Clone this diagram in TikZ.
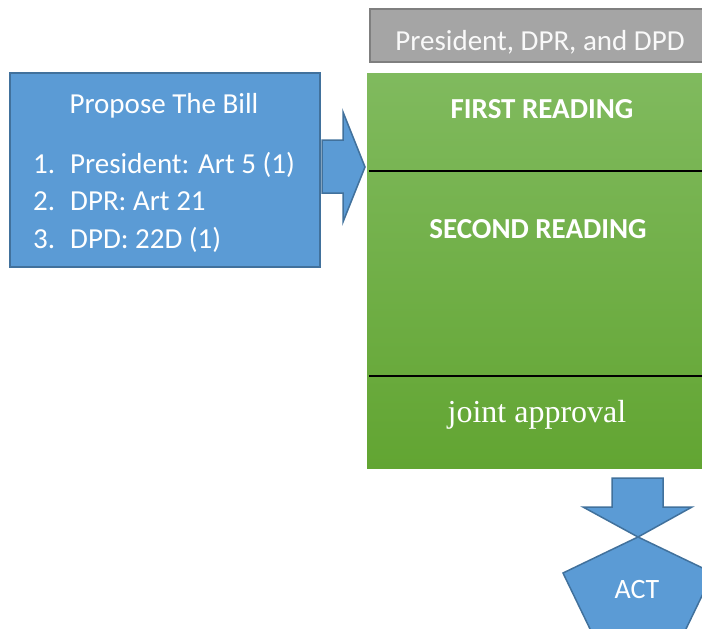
\documentclass[tikz,border=0pt]{standalone}
\usepackage{fontspec}
\setmainfont{Carlito}
\newfontfamily\jointfont{Liberation Serif}
\usetikzlibrary{positioning}
\definecolor{blueFill}{HTML}{5B9BD5}
\definecolor{blueLine}{HTML}{41719C}
\definecolor{greenTop}{HTML}{80BA5E}
\definecolor{greenBot}{HTML}{62A532}
\definecolor{grayFill}{HTML}{A5A5A5}
\definecolor{grayLine}{HTML}{7F7F7F}
\begin{document}
\begin{tikzpicture}[x=1pt,y=-1pt,line join=miter,
	blueshape/.style={fill=blueFill,draw=blueLine,line width=1.5pt},
	labeltext/.style={text=white,anchor=base,inner sep=0pt,font=\fontsize{29}{35}\selectfont},
	itemtext/.style={labeltext,anchor=base west}]
	\useasboundingbox (0,0) rectangle (702,629);
	\clip (0,0) rectangle (702,629);
	% proposing box
	\draw[blueshape] (10,73) rectangle (320,267);
	\node[labeltext] (propose) at (164,113) {Propose The Bill};
	\node[itemtext] (item1) at (33,173) {\makebox[37pt][l]{1.}President: Art 5 (1)};
	\node[itemtext] (item2) at (33,210) {\makebox[37pt][l]{2.}DPR: Art 21};
	\node[itemtext] (item3) at (33,248) {\makebox[37pt][l]{3.}DPD: 22D (1)};
	% arrow to the readings
	\draw[blueshape] (322,140)--(343,140)--(343,112)--(365,167)--(343,222)--(343,193)--(322,193)--cycle;
	% who is involved
	\draw[fill=grayFill,draw=grayLine,line width=1.5pt] (370,9) rectangle (712,62);
	\node[labeltext,text=white!95!gray] (actors) at (540,50) {President, DPR, and DPD};
	% readings
	\shade[top color=greenTop,bottom color=greenBot] (367,73) rectangle (702,468);
	\draw[line width=2pt] (369,171)--(702,171);
	\draw[line width=2pt] (369,376)--(702,376);
	\node[labeltext,font=\fontsize{29}{35}\selectfont\bfseries] (first) at (542,118) {FIRST READING};
	\node[labeltext,font=\fontsize{29}{35}\selectfont\bfseries] (second) at (538,238) {SECOND READING};
	\node[labeltext,font=\fontsize{32}{38}\jointfont] (joint) at (537,422) {joint approval};
	% result
	\draw[blueshape] (612,478)--(663,478)--(663,507)--(692,507)--(638,537)--(583,507)--(612,507)--cycle;
	\draw[blueshape] (638,537)--(713,573)--(671,660)--(605,660)--(563,573)--cycle;
	\node[labeltext,font=\fontsize{28}{34}\selectfont] (act) at (637,598) {ACT};
\end{tikzpicture}
\end{document}
